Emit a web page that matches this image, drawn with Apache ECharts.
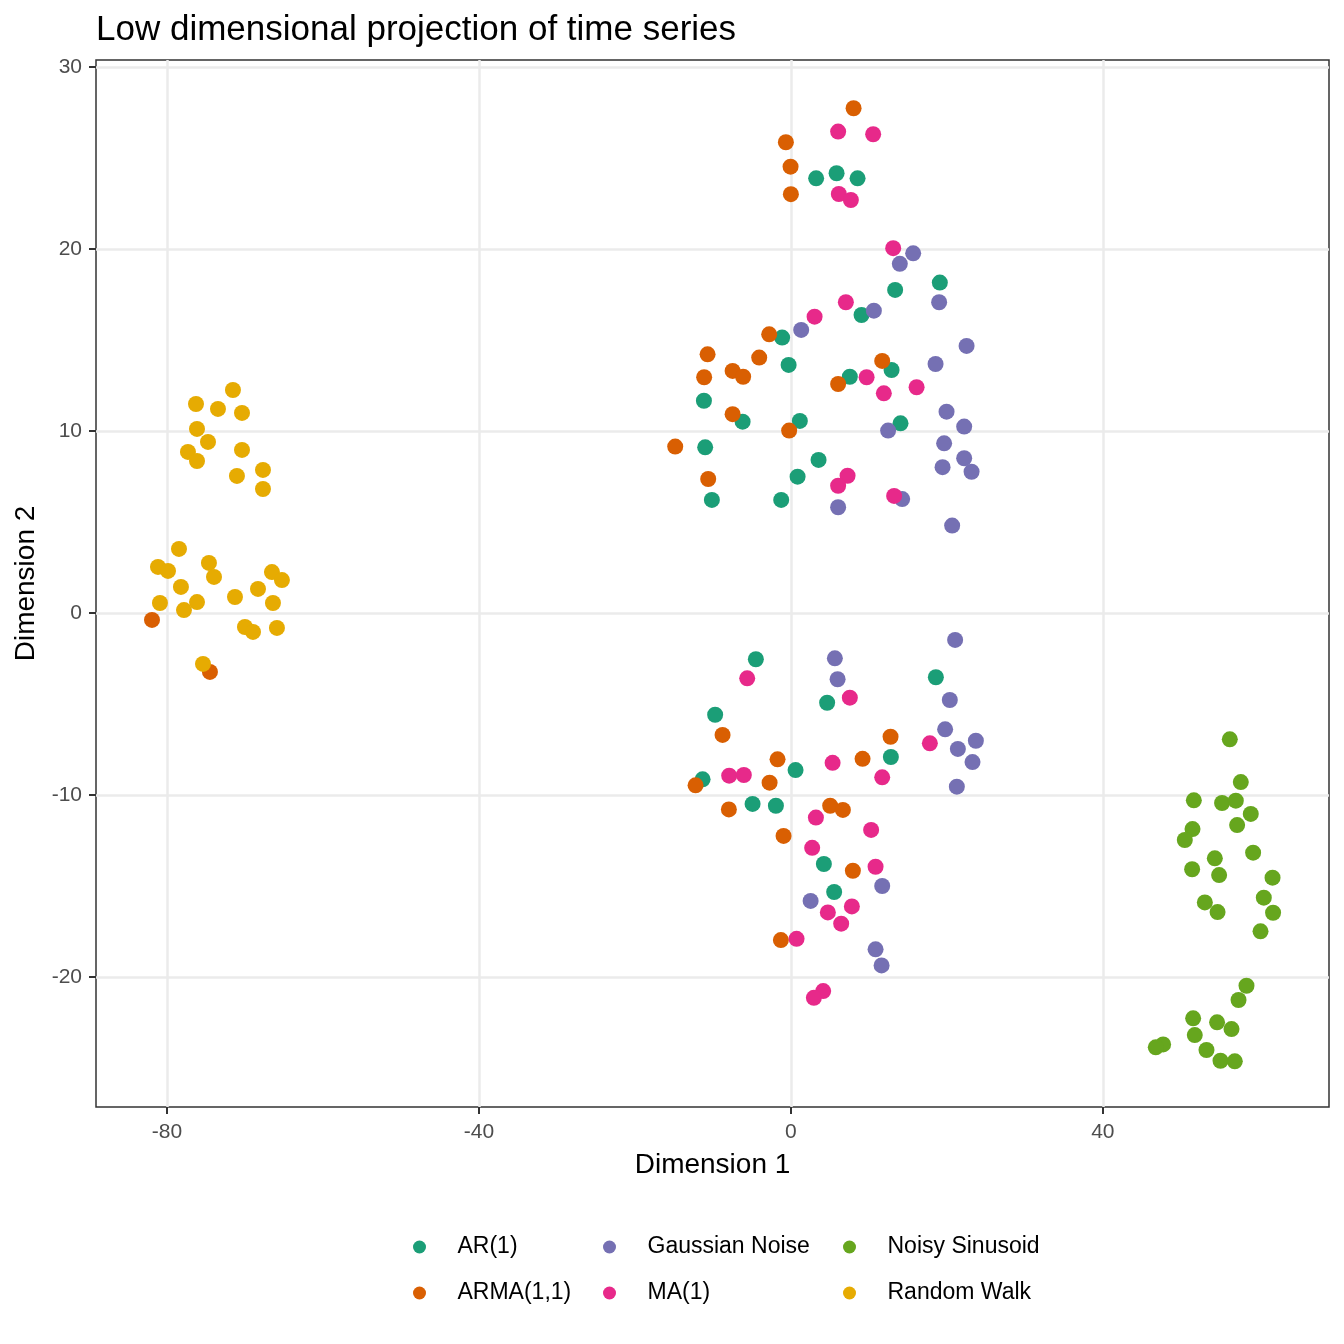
<!DOCTYPE html>
<html>
<head>
<meta charset="utf-8">
<script src="https://cdn.jsdelivr.net/npm/echarts@6/dist/echarts.min.js"></script>
<style>
  html, body { margin: 0; padding: 0; background: #fff; }
  #chartmain { width: 1344px; height: 1344px; }
</style>
</head>
<body>
<div id="chartmain"></div>
<script>
// 各类时间序列的二维投影坐标 [Dimension 1, Dimension 2]
var categories = ['AR(1)', 'ARMA(1,1)', 'Gaussian Noise', 'MA(1)', 'Noisy Sinusoid', 'Random Walk'];
var colors = ['#1B9E77', '#D95F02', '#7570B3', '#E7298A', '#66A61E', '#E6AB02'];

var xTicks = [-80, -40, 0, 40];
var yTicks = [-20, -10, 0, 10, 20, 30];

var ar1 = [
    [3.24, 23.88], [5.86, 24.16], [8.55, 23.88], [19.10, 18.15], [13.37, 17.75],
    [9.06, 16.37], [-1.12, 15.13], [-0.29, 13.63], [12.91, 13.35], [7.56, 12.98],
    [-11.15, 11.66], [-6.19, 10.51], [1.15, 10.55], [14.06, 10.42], [-10.99, 9.10],
    [3.55, 8.41], [0.86, 7.49], [-10.13, 6.21], [-1.24, 6.21],
    [-4.49, -2.54], [18.59, -3.53], [4.65, -4.93], [-9.71, -5.59], [12.82, -7.91],
    [0.60, -8.63], [-11.32, -9.14], [-4.91, -10.49], [-1.92, -10.59], [4.23, -13.79],
    [5.55, -15.33]
];
var arma11 = [
    [8.04, 27.73], [-0.64, 25.86], [-0.04, 24.52], [0.00, 23.01], [-2.78, 15.31],
    [-10.68, 14.21], [-4.06, 14.03], [-7.47, 13.30], [-6.12, 12.98], [-11.12, 12.95],
    [11.71, 13.85], [6.06, 12.58], [-7.47, 10.92], [-0.22, 10.02], [-14.83, 9.14],
    [-10.60, 7.36],
    [-81.92, -0.38], [-74.49, -3.24],
    [-8.76, -6.70], [12.78, -6.80], [9.19, -8.01], [-1.71, -8.04], [-2.73, -9.32],
    [-12.22, -9.47], [-7.95, -10.79], [5.04, -10.59], [6.67, -10.82], [-0.94, -12.25],
    [7.95, -14.16], [-1.28, -17.97]
];
var gaussian = [
    [15.68, 19.76], [13.97, 19.18], [19.01, 17.07], [10.64, 16.61], [1.32, 15.55],
    [18.55, 13.68], [22.53, 14.67], [19.96, 11.06], [22.22, 10.24], [12.47, 10.02],
    [19.65, 9.32], [22.22, 8.50], [19.45, 8.01], [23.17, 7.76], [14.27, 6.26],
    [6.06, 5.81], [20.68, 4.80],
    [21.06, -1.48], [5.64, -2.49], [5.99, -3.64], [20.38, -4.78], [19.78, -6.39],
    [23.72, -7.02], [21.41, -7.47], [23.29, -8.19], [21.28, -9.54], [11.71, -15.00],
    [2.53, -15.82], [10.86, -18.48], [11.63, -19.36]
];
var ma1 = [
    [6.06, 26.45], [10.55, 26.30], [6.15, 23.02], [7.69, 22.69], [13.12, 20.04],
    [7.05, 17.07], [3.04, 16.28], [9.71, 12.95], [11.92, 12.07], [16.12, 12.40],
    [7.27, 7.54], [6.06, 6.99], [13.24, 6.43],
    [-5.60, -3.59], [7.56, -4.65], [17.82, -7.16], [5.35, -8.23], [11.71, -9.03],
    [-7.91, -8.94], [-6.03, -8.90], [3.21, -11.24], [10.29, -11.92], [2.73, -12.90],
    [10.86, -13.94], [7.82, -16.12], [4.74, -16.45], [6.45, -17.07], [0.73, -17.90],
    [4.14, -20.77], [2.95, -21.14]
];
var sinusoid = [
    [56.28, -6.94], [57.69, -9.29], [51.67, -10.29], [55.29, -10.44], [57.05, -10.31],
    [58.97, -11.04], [57.22, -11.65], [51.50, -11.87], [50.51, -12.47], [59.27, -13.17],
    [54.36, -13.48], [51.45, -14.08], [54.91, -14.40], [61.76, -14.54], [60.64, -15.64],
    [53.08, -15.90], [54.71, -16.43], [61.83, -16.47], [60.22, -17.49], [58.42, -20.48],
    [57.40, -21.26], [51.58, -22.27], [54.65, -22.49], [56.50, -22.86], [51.79, -23.19],
    [47.73, -23.70], [46.79, -23.86], [53.29, -24.01], [55.09, -24.60], [56.92, -24.63]
];
var randomWalk = [
    [-71.54, 12.25], [-76.28, 11.48], [-73.46, 11.21], [-70.38, 10.99], [-76.15, 10.11],
    [-74.74, 9.40], [-77.31, 8.85], [-76.15, 8.35], [-70.38, 8.96], [-71.03, 7.53],
    [-67.69, 7.86], [-67.69, 6.81], [-78.46, 3.52], [-81.15, 2.53], [-79.87, 2.31],
    [-74.62, 2.75], [-73.97, 1.98], [-78.21, 1.43], [-66.54, 2.25], [-65.26, 1.81],
    [-68.33, 1.32], [-80.90, 0.55], [-76.15, 0.60], [-77.82, 0.16], [-71.28, 0.88],
    [-66.41, 0.55], [-70.00, -0.77], [-68.97, -1.04], [-65.90, -0.82], [-75.38, -2.80]
];

var seriesData = [ar1, arma11, gaussian, ma1, sinusoid, randomWalk];
var font = 'Liberation Sans, Arial, Helvetica, sans-serif';

var chart = echarts.init(document.getElementById('chartmain'));

// 图例按列排列：每列一个竖向图例
function legendCol(names, left) {
    return {
        data: names,
        orient: 'vertical',
        left: left,
        top: 1232,
        padding: 0,
        icon: 'circle',
        itemWidth: 66,
        itemHeight: 13,
        itemGap: 16,
        selectedMode: false,
        textStyle: { fontFamily: font, fontSize: 23, color: '#000', lineHeight: 30 }
    };
}

var option = {
    backgroundColor: '#fff',
    color: colors,
    animation: false,
    title: {
        text: 'Low dimensional projection of time series',
        left: 96,
        top: 13,
        padding: 0,
        textStyle: { fontFamily: font, fontSize: 35, fontWeight: 'normal', color: '#000' }
    },
    legend: [
        legendCol(['AR(1)', 'ARMA(1,1)'], 413),
        legendCol(['Gaussian Noise', 'MA(1)'], 603),
        legendCol(['Noisy Sinusoid', 'Random Walk'], 843)
    ],
    grid: {
        left: 96,
        right: 15,
        top: 60,
        bottom: 237,
        show: true,
        borderColor: '#333333',
        borderWidth: 1.5,
        backgroundColor: '#fff'
    },
    xAxis: {
        type: 'value',
        min: -89.1,
        max: 69.0,
        name: 'Dimension 1',
        nameLocation: 'middle',
        nameGap: 44,
        nameTextStyle: { fontFamily: font, fontSize: 28, color: '#000' },
        axisLine: { show: false, onZero: false },
        axisTick: { show: true, length: 7, customValues: xTicks, lineStyle: { color: '#333333', width: 2 } },
        axisLabel: { customValues: xTicks, margin: 15, fontFamily: font, fontSize: 21, color: '#4D4D4D' },
        splitLine: { show: true, lineStyle: { color: '#EBEBEB', width: 2.5 } }
    },
    yAxis: {
        type: 'value',
        min: -27.14,
        max: 30.38,
        name: 'Dimension 2',
        nameLocation: 'middle',
        nameGap: 55,
        nameTextStyle: { fontFamily: font, fontSize: 28, color: '#000' },
        axisLine: { show: false, onZero: false },
        axisTick: { show: true, length: 7, customValues: yTicks, lineStyle: { color: '#333333', width: 2 } },
        axisLabel: { customValues: yTicks, margin: 14, fontFamily: font, fontSize: 21, color: '#4D4D4D' },
        splitLine: { show: true, lineStyle: { color: '#EBEBEB', width: 2.5 } }
    },
    series: categories.map(function (name, i) {
        return {
            name: name,
            type: 'scatter',
            symbol: 'circle',
            symbolSize: 16,
            data: seriesData[i],
            itemStyle: { color: colors[i], opacity: 1 }
        };
    })
};

chart.setOption(option);
</script>
</body>
</html>
